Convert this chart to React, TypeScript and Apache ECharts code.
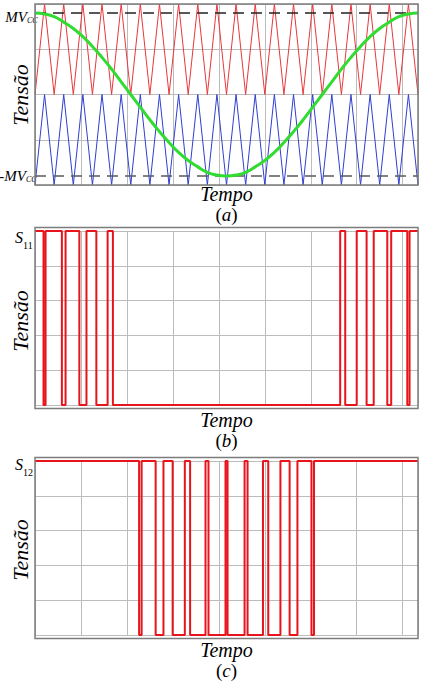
import { useEffect, useRef } from "react";
import * as echarts from "echarts";

// One fundamental period (60 Hz) in milliseconds, carriers at 1200 Hz
const periodMs = 1000 / 60;
const halfCarrierMs = 1000 / 2400;

// Triangle carriers: vertex values at every half carrier period
const upperCarrier = [
  0, 1, 0, 1, 0, 1, 0, 1, 0, 1, 0, 1, 0, 1, 0, 1, 0, 1, 0, 1, 0,
  1, 0, 1, 0, 1, 0, 1, 0, 1, 0, 1, 0, 1, 0, 1, 0, 1, 0, 1, 0,
];
const lowerCarrier = [
  -1, 0, -1, 0, -1, 0, -1, 0, -1, 0, -1, 0, -1, 0, -1, 0, -1, 0, -1, 0, -1,
  0, -1, 0, -1, 0, -1, 0, -1, 0, -1, 0, -1, 0, -1, 0, -1, 0, -1, 0, -1,
];

// Modulating reference sampled at the same instants
const reference = [
  0.9, 0.89, 0.86, 0.8, 0.73, 0.64, 0.53, 0.41, 0.28, 0.14, 0.0, -0.14, -0.28,
  -0.41, -0.53, -0.64, -0.73, -0.8, -0.86, -0.89, -0.9, -0.89, -0.86, -0.8,
  -0.73, -0.64, -0.53, -0.41, -0.28, -0.14, 0.0, 0.14, 0.28, 0.41, 0.53, 0.64,
  0.73, 0.8, 0.86, 0.89, 0.9,
];

// DC-link level markers (+MVcc / -MVcc)
const mvccLevel = 0.9;

// Gate signal switching instants (ms); both signals start high and toggle at each edge
const s11Edges = [
  0.37, 0.46, 1.17, 1.33, 1.93, 2.24, 2.67, 3.16, 3.39, 13.28, 13.5, 14.0,
  14.43, 14.74, 15.33, 15.5, 16.2, 16.3,
];
const s12Edges = [
  4.53, 4.64, 5.25, 5.59, 5.99, 6.52, 6.75, 7.42, 7.55, 8.29, 8.38, 9.12, 9.25,
  9.92, 10.15, 10.68, 11.08, 11.42, 12.03, 12.14,
];

const serif = "Liberation Serif";
const ink = "#000";
const gridColor = "#bcbcbc";
const frameColor = "#7c7c7c";

function vertexSeries(values: number[]) {
  return values.map((v, i) => [i * halfCarrierMs, v]);
}

function stepPoints(edges: number[], start: number) {
  const pts: number[][] = [[0, start]];
  let v = start;
  for (const e of edges) {
    pts.push([e, v]);
    v = 1 - v;
    pts.push([e, v]);
  }
  pts.push([periodMs, v]);
  return pts;
}

function xAxisFor(gridIndex: number) {
  return {
    type: "value" as const,
    gridIndex,
    min: 0,
    max: periodMs,
    interval: 2,
    axisLine: { show: false },
    axisTick: { show: false },
    axisLabel: { show: false },
    splitLine: { show: true, lineStyle: { color: gridColor, width: 1 } },
  };
}

function yAxisFor(gridIndex: number, min: number, max: number, interval: number) {
  return {
    type: "value" as const,
    gridIndex,
    min,
    max,
    interval,
    axisLine: { show: false },
    axisTick: { show: false },
    axisLabel: { show: false },
    splitLine: { show: true, lineStyle: { color: gridColor, width: 1 } },
  };
}

function lineSeries(idx: number, data: number[][], color: string, width: number, extra: any = {}) {
  return {
    type: "line" as const,
    xAxisIndex: idx,
    yAxisIndex: idx,
    data,
    symbol: "none",
    silent: true,
    lineStyle: { color, width, ...(extra.lineStyle || {}) },
    smooth: extra.smooth || false,
    z: extra.z ?? 2,
  };
}

function text(x: number, y: number, t: string, size: number, opts: any = {}) {
  return {
    type: "text",
    x,
    y,
    rotation: opts.rotation || 0,
    silent: true,
    style: {
      text: t,
      fill: ink,
      fontFamily: serif,
      fontSize: size,
      fontStyle: opts.italic === false ? "normal" : "italic",
      textAlign: opts.align || "center",
      textVerticalAlign: "middle",
    },
  };
}

function frame(y: number) {
  return {
    type: "rect",
    silent: true,
    z: 10,
    shape: { x: 35, y, width: 383, height: 181 },
    style: { fill: "none", stroke: frameColor, lineWidth: 1.5 },
  };
}

function caption(y: number, letter: string) {
  return {
    type: "text",
    x: 226.5,
    y,
    silent: true,
    style: {
      text: `{p|(}{i|${letter}}{p|)}`,
      fill: ink,
      fontFamily: serif,
      fontSize: 19,
      textAlign: "center",
      textVerticalAlign: "middle",
      rich: {
        p: { fontFamily: serif, fontSize: 19, fontStyle: "normal", fill: ink },
        i: { fontFamily: serif, fontSize: 19, fontStyle: "italic", fill: ink },
      },
    },
  };
}

export default function App() {
  const ref = useRef<HTMLDivElement>(null);

  useEffect(() => {
    if (!ref.current) return;
    const chart = echarts.init(ref.current, undefined, { renderer: "svg" });

    const option = {
      animation: false,
      backgroundColor: "#ffffff",
      grid: [
        { left: 35, top: 4, width: 383, height: 181 },
        { left: 35, top: 231, width: 383, height: 174 },
        { left: 35, top: 461, width: 383, height: 174 },
      ],
      xAxis: [xAxisFor(0), xAxisFor(1), xAxisFor(2)],
      yAxis: [yAxisFor(0, -1, 1, 0.5), yAxisFor(1, 0, 1, 0.2), yAxisFor(2, 0, 1, 0.2)],
      series: [
        lineSeries(0, vertexSeries(upperCarrier), "#e8383b", 1),
        lineSeries(0, vertexSeries(lowerCarrier), "#2f3fd0", 1),
        lineSeries(0, [[0, mvccLevel], [periodMs, mvccLevel]], "#222222", 1.5, {
          lineStyle: { type: [11, 7] },
          z: 3,
        }),
        lineSeries(0, [[0, -mvccLevel], [periodMs, -mvccLevel]], "#5a5a5a", 1.5, {
          lineStyle: { type: [11, 7] },
          z: 3,
        }),
        lineSeries(0, vertexSeries(reference), "#2fdc2f", 3, { smooth: 0.5, z: 4 }),
        lineSeries(1, stepPoints(s11Edges, 1), "#e8141c", 2),
        lineSeries(2, stepPoints(s12Edges, 1), "#e8141c", 2),
      ],
      graphic: [
        frame(4),
        frame(227.5),
        frame(457.5),
        // panel (a) labels
        text(27, 16.5, "MV", 15, { align: "right" }),
        text(27, 20, "CC", 8, { align: "left" }),
        text(26, 176, "-MV", 15, { align: "right" }),
        text(26, 179.5, "CC", 8, { align: "left" }),
        text(20, 95, "Tensão", 22, { rotation: Math.PI / 2 }),
        text(226.5, 194, "Tempo", 20),
        caption(214, "a"),
        // panel (b) labels
        text(23, 237.5, "S", 16, { align: "right" }),
        text(23, 245, "11", 10, { align: "left", italic: false }),
        text(20, 321, "Tensão", 22, { rotation: Math.PI / 2 }),
        text(226.5, 420, "Tempo", 20),
        caption(440, "b"),
        // panel (c) labels
        text(23, 464, "S", 16, { align: "right" }),
        text(23, 472, "12", 10, { align: "left", italic: false }),
        text(20, 550, "Tensão", 22, { rotation: Math.PI / 2 }),
        text(226.5, 649.5, "Tempo", 20),
        caption(670, "c"),
      ],
    };

    chart.setOption(option as any);
    return () => chart.dispose();
  }, []);

  return (
    <div
      ref={ref}
      style={{ position: "fixed", left: 0, top: 0, width: 422, height: 683, background: "#fff" }}
    />
  );
}
